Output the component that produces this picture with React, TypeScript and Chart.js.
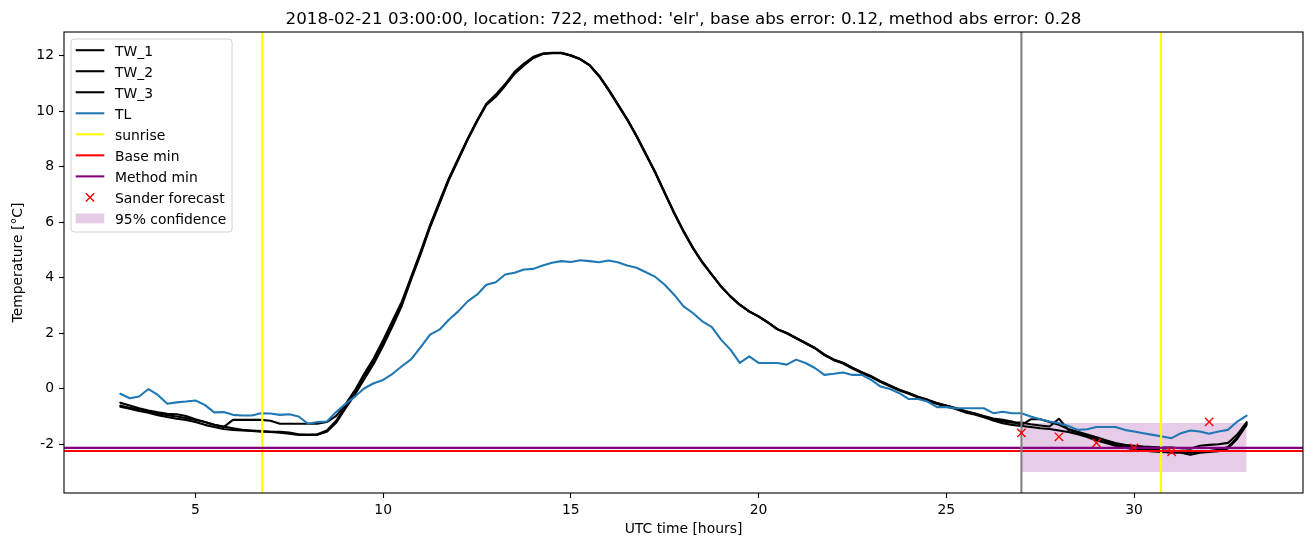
import React, { useEffect, useRef } from 'react';
import { Chart, registerables } from 'chart.js';

Chart.register(...registerables);

const FONT = '"DejaVu Sans", "Liberation Sans", sans-serif';
const TITLE = "2018-02-21 03:00:00, location: 722, method: 'elr', base abs error: 0.12, method abs error: 0.28";
const X_LABEL = 'UTC time [hours]';
const Y_LABEL = 'Temperature [°C]';
const X_TICKS = [5, 10, 15, 20, 25, 30];
const Y_TICKS = [-2, 0, 2, 4, 6, 8, 10, 12];
const X_MIN = 1.5;
const X_MAX = 34.5;
const Y_MIN = -3.755;
const Y_MAX = 12.855;

const START_HOUR = 3;
const STEP_HOURS = 0.25;

// one row per hour: h, h+0.25, h+0.5, h+0.75
const TW_1 = [
  -0.50, -0.60, -0.70, -0.78,
  -0.85, -0.90, -0.92, -0.98,
  -1.10, -1.20, -1.30, -1.38,
  -1.12, -1.12, -1.12, -1.12,
  -1.15, -1.26, -1.26, -1.26,
  -1.26, -1.26, -1.20, -0.98,
  -0.55, -0.05, 0.55, 1.10,
  1.75, 2.45, 3.15, 4.05,
  4.95, 5.90, 6.75, 7.58,
  8.30, 9.00, 9.67, 10.27,
  10.60, 10.98, 11.42, 11.72,
  11.96, 12.08, 12.11, 12.11,
  12.02, 11.88, 11.66, 11.28,
  10.80, 10.26, 9.72, 9.12,
  8.46, 7.80, 7.07, 6.35,
  5.69, 5.09, 4.57, 4.12,
  3.69, 3.33, 3.03, 2.79,
  2.61, 2.39, 2.15, 2.01,
  1.83, 1.65, 1.47, 1.24,
  1.06, 0.94, 0.76, 0.60,
  0.45, 0.27, 0.12, -0.03,
  -0.15, -0.29, -0.39, -0.51,
  -0.60, -0.69, -0.80, -0.88,
  -0.98, -1.07, -1.12, -1.18,
  -1.30, -1.10, -1.10, -1.20,
  -1.30, -1.45, -1.55, -1.65,
  -1.75, -1.85, -1.95, -2.02,
  -2.05, -2.08, -2.10, -2.12,
  -2.12, -2.14, -2.16, -2.05,
  -2.02, -2.00, -1.95, -1.65,
  -1.20,
];

const TW_2 = [
  -0.60, -0.68, -0.75, -0.82,
  -0.90, -0.95, -1.00, -1.05,
  -1.12, -1.20, -1.30, -1.36,
  -1.42, -1.48, -1.50, -1.52,
  -1.54, -1.55, -1.58, -1.64,
  -1.66, -1.64, -1.50, -1.15,
  -0.60, -0.10, 0.45, 1.00,
  1.65, 2.35, 3.09, 4.00,
  4.90, 5.86, 6.70, 7.55,
  8.27, 8.99, 9.65, 10.25,
  10.55, 10.95, 11.35, 11.65,
  11.92, 12.06, 12.10, 12.10,
  12.00, 11.88, 11.66, 11.28,
  10.79, 10.25, 9.71, 9.11,
  8.45, 7.79, 7.06, 6.34,
  5.68, 5.08, 4.56, 4.12,
  3.69, 3.33, 3.03, 2.79,
  2.61, 2.39, 2.15, 2.01,
  1.83, 1.65, 1.47, 1.23,
  1.05, 0.93, 0.75, 0.59,
  0.44, 0.26, 0.11, -0.04,
  -0.16, -0.30, -0.40, -0.52,
  -0.61, -0.70, -0.82, -0.90,
  -1.00, -1.10, -1.18, -1.22,
  -1.22, -1.28, -1.32, -1.36,
  -1.08, -1.48, -1.58, -1.68,
  -1.80, -1.90, -2.00, -2.08,
  -2.12, -2.16, -2.20, -2.22,
  -2.24, -2.24, -2.30, -2.26,
  -2.24, -2.20, -2.10, -1.75,
  -1.25,
];

const TW_3 = [
  -0.65, -0.72, -0.80, -0.86,
  -0.95, -1.02, -1.08, -1.12,
  -1.20, -1.30, -1.38, -1.45,
  -1.48, -1.50, -1.52, -1.55,
  -1.56, -1.58, -1.62, -1.66,
  -1.66, -1.66, -1.55, -1.22,
  -0.70, -0.20, 0.35, 0.90,
  1.55, 2.25, 3.00, 3.95,
  4.85, 5.82, 6.66, 7.52,
  8.24, 8.97, 9.63, 10.23,
  10.52, 10.92, 11.36, 11.68,
  11.93, 12.07, 12.09, 12.09,
  12.01, 11.87, 11.65, 11.26,
  10.77, 10.23, 9.69, 9.09,
  8.43, 7.77, 7.04, 6.32,
  5.66, 5.06, 4.55, 4.11,
  3.68, 3.32, 3.02, 2.78,
  2.60, 2.38, 2.14, 2.00,
  1.82, 1.64, 1.46, 1.21,
  1.03, 0.91, 0.73, 0.57,
  0.42, 0.24, 0.09, -0.06,
  -0.18, -0.32, -0.43, -0.55,
  -0.64, -0.73, -0.85, -0.93,
  -1.03, -1.14, -1.24, -1.30,
  -1.34, -1.38, -1.42, -1.45,
  -1.50, -1.56, -1.64, -1.74,
  -1.86, -1.95, -2.05, -2.12,
  -2.18, -2.22, -2.26, -2.28,
  -2.30, -2.30, -2.38, -2.30,
  -2.28, -2.25, -2.15, -1.80,
  -1.30,
];

const TL = [
  -0.18, -0.34, -0.28, -0.01,
  -0.22, -0.54, -0.49, -0.46,
  -0.42, -0.58, -0.85, -0.84,
  -0.94, -0.96, -0.96, -0.88,
  -0.89, -0.94, -0.92, -1.00,
  -1.26, -1.20, -1.18, -0.84,
  -0.54, -0.28, 0.02, 0.20,
  0.32, 0.54, 0.81, 1.07,
  1.50, 1.95, 2.13, 2.49,
  2.79, 3.15, 3.39, 3.75,
  3.84, 4.12, 4.18, 4.30,
  4.32, 4.44, 4.54, 4.60,
  4.57, 4.63, 4.60, 4.56,
  4.62, 4.56, 4.44, 4.36,
  4.20, 4.03, 3.75, 3.39,
  2.97, 2.73, 2.43, 2.23,
  1.77, 1.41, 0.93, 1.17,
  0.93, 0.93, 0.93, 0.87,
  1.05, 0.93, 0.75, 0.50,
  0.54, 0.59, 0.50, 0.50,
  0.32, 0.08, -0.01, -0.16,
  -0.37, -0.37, -0.46, -0.66,
  -0.66, -0.70, -0.70, -0.70,
  -0.70, -0.88, -0.83, -0.88,
  -0.88, -1.00, -1.10, -1.18,
  -1.24, -1.34, -1.48, -1.46,
  -1.38, -1.38, -1.38, -1.48,
  -1.54, -1.60, -1.66, -1.72,
  -1.78, -1.60, -1.50, -1.54,
  -1.62, -1.54, -1.48, -1.18,
  -0.97,
];

const SUNRISE_HOURS = [6.78, 30.72];
const FORECAST_START_HOUR = 27.0;
const BASE_MIN = -2.24;
const METHOD_MIN = -2.13;

const FORECAST_HOURS = [27, 28, 29, 30, 31, 32];
const FORECAST_VALUES = [-1.59, -1.73, -1.95, -2.13, -2.27, -1.19];

const CONF_HOURS = [27, 33];
const CONF_LOW = [-3.0, -3.0];
const CONF_HIGH = [-1.23, -1.23];

const COLORS = {
  tw: '#000000',
  tl: '#1f77b4',
  sunrise: '#ffff00',
  base: '#ff0000',
  method: '#800080',
  forecast: '#ff0000',
  conf: 'rgba(128,0,128,0.2)',
  start: '#808080',
};

const LEGEND_ITEMS = [
  { label: 'TW_1', kind: 'line', color: COLORS.tw },
  { label: 'TW_2', kind: 'line', color: COLORS.tw },
  { label: 'TW_3', kind: 'line', color: COLORS.tw },
  { label: 'TL', kind: 'line', color: COLORS.tl },
  { label: 'sunrise', kind: 'line', color: COLORS.sunrise },
  { label: 'Base min', kind: 'line', color: COLORS.base },
  { label: 'Method min', kind: 'line', color: COLORS.method },
  { label: 'Sander forecast', kind: 'x', color: COLORS.forecast },
  { label: '95% confidence', kind: 'patch', color: COLORS.conf },
];

const series = (vals: number[]) => vals.map((v, i) => ({ x: START_HOUR + i * STEP_HOURS, y: v }));
const pairs = (xs: number[], ys: number[]) => xs.map((x, i) => ({ x, y: ys[i] }));

const FS = 13.9;
const LW = 2.08;
const TL_INDEX = 5;

const refLinesPlugin = {
  id: 'refLines',
  afterDatasetDraw(chart: any, args: any) {
    if (args.index !== TL_INDEX) return;
    const { ctx, chartArea } = chart;
    const xs = chart.scales.x;
    const ys = chart.scales.y;
    ctx.save();
    ctx.beginPath();
    ctx.rect(chartArea.left, chartArea.top, chartArea.right - chartArea.left, chartArea.bottom - chartArea.top);
    ctx.clip();
    ctx.lineWidth = LW;
    const vline = (h: number, color: string) => {
      const px = xs.getPixelForValue(h);
      ctx.strokeStyle = color;
      ctx.beginPath();
      ctx.moveTo(px, chartArea.top);
      ctx.lineTo(px, chartArea.bottom);
      ctx.stroke();
    };
    const hline = (v: number, color: string) => {
      const py = ys.getPixelForValue(v);
      ctx.strokeStyle = color;
      ctx.beginPath();
      ctx.moveTo(chartArea.left, py);
      ctx.lineTo(chartArea.right, py);
      ctx.stroke();
    };
    SUNRISE_HOURS.forEach((h) => vline(h, COLORS.sunrise));
    hline(BASE_MIN, COLORS.base);
    hline(METHOD_MIN, COLORS.method);
    vline(FORECAST_START_HOUR, COLORS.start);
    ctx.restore();
  },
};

const framePlugin = {
  id: 'mplFrame',
  afterDraw(chart: any) {
    const { ctx, chartArea } = chart;
    ctx.save();
    ctx.strokeStyle = '#000';
    ctx.lineWidth = 1.1;
    ctx.strokeRect(chartArea.left, chartArea.top, chartArea.right - chartArea.left, chartArea.bottom - chartArea.top);
    ctx.fillStyle = '#000';
    ctx.font = `16.7px ${FONT}`;
    ctx.textAlign = 'center';
    ctx.textBaseline = 'alphabetic';
    ctx.fillText(TITLE, (chartArea.left + chartArea.right) / 2, 23.5);
    const x0 = chartArea.left + 7;
    const y0 = chartArea.top + 7;
    const w = 161;
    const h = 193;
    const r = 3;
    ctx.beginPath();
    ctx.moveTo(x0 + r, y0);
    ctx.lineTo(x0 + w - r, y0);
    ctx.quadraticCurveTo(x0 + w, y0, x0 + w, y0 + r);
    ctx.lineTo(x0 + w, y0 + h - r);
    ctx.quadraticCurveTo(x0 + w, y0 + h, x0 + w - r, y0 + h);
    ctx.lineTo(x0 + r, y0 + h);
    ctx.quadraticCurveTo(x0, y0 + h, x0, y0 + h - r);
    ctx.lineTo(x0, y0 + r);
    ctx.quadraticCurveTo(x0, y0, x0 + r, y0);
    ctx.closePath();
    ctx.fillStyle = 'rgba(255,255,255,0.8)';
    ctx.fill();
    ctx.strokeStyle = '#d0d0d0';
    ctx.lineWidth = 1;
    ctx.stroke();
    ctx.font = `${FS}px ${FONT}`;
    ctx.textAlign = 'left';
    LEGEND_ITEMS.forEach((item, i) => {
      const cy = y0 + 11.2 + i * 21.03;
      const hx0 = x0 + 4.7;
      const hx1 = x0 + 33.3;
      if (item.kind === 'line') {
        ctx.strokeStyle = item.color;
        ctx.lineWidth = LW;
        ctx.beginPath();
        ctx.moveTo(hx0, cy);
        ctx.lineTo(hx1, cy);
        ctx.stroke();
      } else if (item.kind === 'x') {
        const cx = (hx0 + hx1) / 2;
        const d = 4.15;
        ctx.strokeStyle = item.color;
        ctx.lineWidth = 1.4;
        ctx.beginPath();
        ctx.moveTo(cx - d, cy - d);
        ctx.lineTo(cx + d, cy + d);
        ctx.moveTo(cx - d, cy + d);
        ctx.lineTo(cx + d, cy - d);
        ctx.stroke();
      } else {
        ctx.fillStyle = item.color;
        ctx.fillRect(hx0, cy - 4.9, hx1 - hx0, 9.8);
      }
      ctx.fillStyle = '#000';
      ctx.textBaseline = 'alphabetic';
      ctx.fillText(item.label, x0 + 44, cy + 5.5);
    });
    ctx.restore();
  },
};

export default function App() {
  const canvasRef = useRef<HTMLCanvasElement | null>(null);

  useEffect(() => {
    const canvas = canvasRef.current;
    if (!canvas) return;
    const lineDs = (label: string, vals: number[], color: string, order: number) => ({
      label,
      data: series(vals),
      borderColor: color,
      backgroundColor: color,
      borderWidth: LW,
      pointRadius: 0,
      pointHoverRadius: 0,
      tension: 0,
      fill: false,
      borderJoinStyle: 'round' as const,
      borderCapStyle: 'round' as const,
      order,
    });
    const chart = new Chart(canvas, {
      type: 'line',
      data: {
        datasets: [
          {
            label: 'conf_low',
            data: pairs(CONF_HOURS, CONF_LOW),
            borderWidth: 0,
            borderColor: 'rgba(0,0,0,0)',
            pointRadius: 0,
            fill: false,
            order: 20,
          },
          {
            label: '95% confidence',
            data: pairs(CONF_HOURS, CONF_HIGH),
            borderWidth: 0,
            borderColor: 'rgba(0,0,0,0)',
            backgroundColor: COLORS.conf,
            pointRadius: 0,
            fill: '-1',
            order: 19,
          },
          lineDs('TW_1', TW_1, COLORS.tw, 9),
          lineDs('TW_2', TW_2, COLORS.tw, 8),
          lineDs('TW_3', TW_3, COLORS.tw, 7),
          lineDs('TL', TL, COLORS.tl, 6),
          {
            label: 'Sander forecast',
            data: pairs(FORECAST_HOURS, FORECAST_VALUES),
            showLine: false,
            pointStyle: 'crossRot',
            pointRadius: 5.9,
            pointHoverRadius: 5.9,
            pointBorderWidth: 1.4,
            borderColor: COLORS.forecast,
            backgroundColor: COLORS.forecast,
            order: 1,
          },
        ] as any,
      },
      options: {
        animation: false,
        responsive: false,
        devicePixelRatio: 1,
        layout: { padding: { top: 32, right: 10, left: 0, bottom: 0 } },
        plugins: {
          legend: { display: false },
          title: { display: false },
          tooltip: { enabled: false },
        },
        events: [],
        scales: {
          x: {
            type: 'linear',
            min: X_MIN,
            max: X_MAX,
            afterBuildTicks: (s: any) => {
              s.ticks = X_TICKS.map((v) => ({ value: v }));
            },
            afterFit: (s: any) => {
              s.height = 54;
            },
            grid: { drawOnChartArea: false, drawTicks: true, tickLength: 5, tickColor: '#000', tickWidth: 1.1 },
            border: { display: false },
            ticks: {
              color: '#000',
              font: { family: FONT, size: FS },
              padding: 4,
              maxRotation: 0,
              autoSkip: false,
              callback: (v: any) => String(v),
            },
            title: {
              display: true,
              text: X_LABEL,
              color: '#000',
              font: { family: FONT, size: FS },
              padding: { top: 0, bottom: 9 },
            },
          },
          y: {
            type: 'linear',
            min: Y_MIN,
            max: Y_MAX,
            afterBuildTicks: (s: any) => {
              s.ticks = Y_TICKS.map((v) => ({ value: v }));
            },
            afterFit: (s: any) => {
              s.width = 64;
            },
            grid: { drawOnChartArea: false, drawTicks: true, tickLength: 5, tickColor: '#000', tickWidth: 1.1 },
            border: { display: false },
            ticks: {
              color: '#000',
              font: { family: FONT, size: FS },
              padding: 5,
              autoSkip: false,
              callback: (v: any) => String(v),
            },
            title: {
              display: true,
              text: Y_LABEL,
              color: '#000',
              font: { family: FONT, size: FS },
              padding: { top: 10, bottom: 0 },
            },
          },
        },
      } as any,
      plugins: [refLinesPlugin, framePlugin],
    });
    return () => chart.destroy();
  }, []);

  return (
    <div style={{ position: 'fixed', left: 0, top: 0, width: 1313, height: 547, background: '#fff' }}>
      <canvas ref={canvasRef} width={1313} height={547} style={{ display: 'block', width: 1313, height: 547 }} />
    </div>
  );
}
